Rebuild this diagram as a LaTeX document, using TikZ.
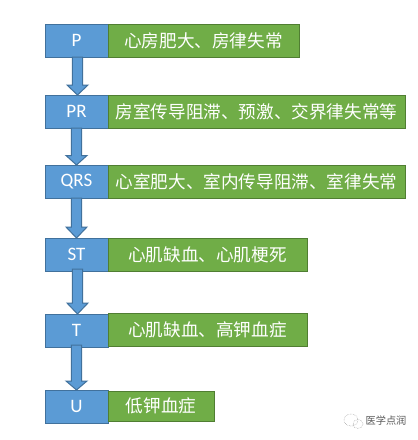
\documentclass[tikz,border=0pt]{standalone}
\usepackage{fontspec}
\usetikzlibrary{calc}
\setmainfont{Carlito}
\newfontfamily\cjk{Noto Sans CJK SC}
\definecolor{bluefill}{HTML}{5B9BD5}
\definecolor{blueline}{HTML}{41719C}
\definecolor{greenfill}{HTML}{70AD47}
\definecolor{greenline}{HTML}{507E32}
\tikzset{
  every node/.style={inner sep=0pt,outer sep=0pt},
  labelbox/.style={draw=blueline,fill=bluefill,line width=1pt,text=white,minimum width=63pt,minimum height=33pt,font=\fontsize{19}{19}\selectfont},
  descbox/.style={draw=greenline,fill=greenfill,line width=1pt,text=white,font=\cjk\fontsize{17.6}{18}\selectfont},
  blockarrow/.style={draw=blueline,fill=bluefill,line width=1pt,line join=miter},
  markicon/.style={draw=gray!80,line width=.5pt,densely dotted},
  marktext/.style={text=black!65,font=\cjk\fontsize{10.2}{10}\selectfont}
}
% #1 from, #2 to, #3 horizontal offset, #4 overlap at the start, #5 head length
\newcommand{\blockarr}[5]{%
  \draw[blockarrow]
    ($(#1.south)+(#3-5.2,-#4)$) -- ($(#1.south)+(#3+5.2,-#4)$) --
    ($(#2.north)+(#3+5.2,-#5)$) -- ($(#2.north)+(#3+10.5,-#5)$) --
    ($(#2.north)+(#3,0)$) -- ($(#2.north)+(#3-10.5,-#5)$) --
    ($(#2.north)+(#3-5.2,-#5)$) -- cycle;}
\begin{document}
\begin{tikzpicture}[x=1pt,y=-1pt]
\useasboundingbox[fill=white] (0,0) rectangle (418,440);
\node[labelbox] (P) at (76.5,40.5) {P};
\node[labelbox] (PR) at (76.5,111.5) {PR};
\node[labelbox] (QRS) at (76.5,181.5) {QRS};
\node[labelbox] (ST) at (76.5,254.5) {ST};
\node[labelbox] (T) at (76.5,330.5) {T};
\node[labelbox] (U) at (76.5,406.5) {U};
\node[descbox,minimum width=191pt,minimum height=33pt] (Pd) at (203.5,40.5) {心房肥大、房律失常};
\node[descbox,minimum width=297pt,minimum height=33pt] (PRd) at (256.5,111.5) {房室传导阻滞、预激、交界律失常等};
\node[descbox,minimum width=297pt,minimum height=33pt] (QRSd) at (256.5,181.5) {心室肥大、室内传导阻滞、室律失常};
\node[descbox,minimum width=199pt,minimum height=33pt] (STd) at (207.5,254.5) {心肌缺血、心肌梗死};
\node[descbox,minimum width=199pt,minimum height=33pt] (Td) at (207.5,329.5) {心肌缺血、高钾血症};
\node[descbox,minimum width=106pt,minimum height=30pt] (Ud) at (161,406) {低钾血症};
\blockarr{P}{PR}{1}{0}{10}
\blockarr{PR}{QRS}{0}{0}{9.5}
\blockarr{QRS}{ST}{0}{0}{11}
\blockarr{ST}{T}{1}{2}{11}
\blockarr{T}{U}{0}{2}{9}
\node[marktext] (mark) at (386,421) {医学点润};
\draw[markicon] (351,420) ellipse (7pt and 6pt);
\draw[markicon] (358,424) ellipse (5pt and 4.5pt);
\end{tikzpicture}
\end{document}
